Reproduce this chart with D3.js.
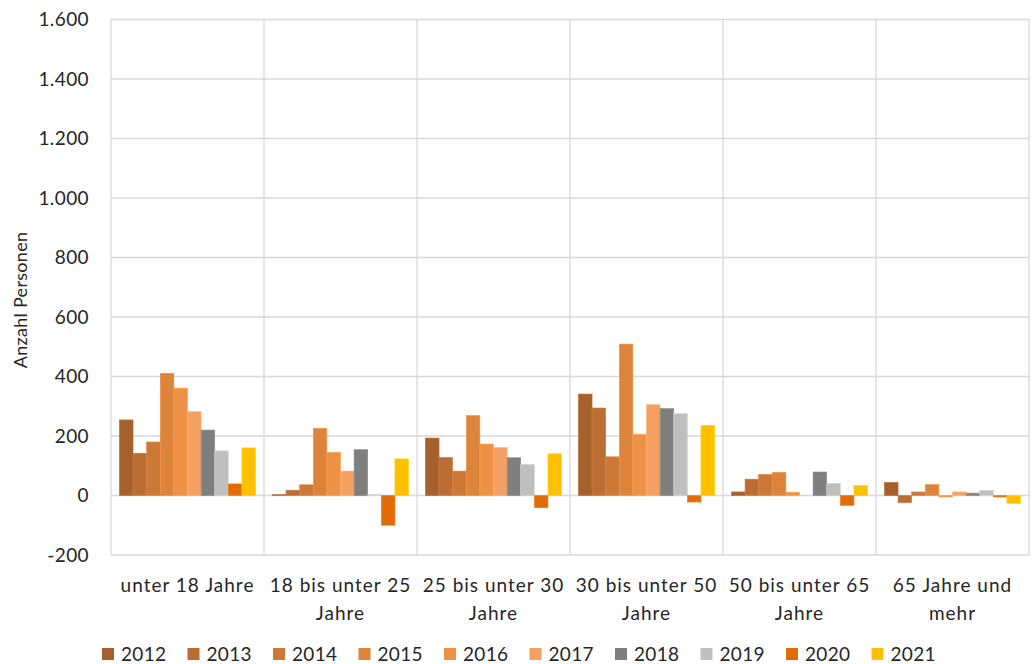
<!DOCTYPE html>
<html>
<head>
<meta charset="utf-8">
<script src="https://cdn.jsdelivr.net/npm/d3@7"></script>
<style>
  html, body { margin: 0; padding: 0; background: #fff; }
  svg { display: block; font-family: Lato, "Open Sans", sans-serif; }
</style>
</head>
<body>
<svg id="chart" width="1032" height="664"></svg>
<script>
// Altersgruppen (x-Achse)
const categories = [
  ["unter 18 Jahre"],
  ["18 bis unter 25", "Jahre"],
  ["25 bis unter 30", "Jahre"],
  ["30 bis unter 50", "Jahre"],
  ["50 bis unter 65", "Jahre"],
  ["65 Jahre und", "mehr"]
];
const years = ["2012", "2013", "2014", "2015", "2016", "2017", "2018", "2019", "2020", "2021"];
const colors = ["#a5612d", "#bc6d33", "#cc7837", "#dc843c", "#ed9144", "#f5a063", "#7f7f7f", "#bfbfbf", "#e36c0a", "#ffc000"];

// Werte je Jahr, in der Reihenfolge der Altersgruppen
const v2012 = [254, 3, 193, 341, 12, 44];
const v2013 = [142, 18, 128, 294, 55, -24];
const v2014 = [180, 36, 82, 130, 71, 12];
const v2015 = [411, 226, 269, 509, 78, 37];
const v2016 = [361, 145, 173, 206, 11, -5];
const v2017 = [282, 82, 161, 305, 0, 12];
const v2018 = [220, 154, 127, 292, 79, 8];
const v2019 = [150, 3, 104, 275, 41, 17];
const v2020 = [39, -100, -41, -22, -33, -5];
const v2021 = [160, 123, 140, 236, 34, -26];
const series = [v2012, v2013, v2014, v2015, v2016, v2017, v2018, v2019, v2020, v2021];

const yTicks = [-200, 0, 200, 400, 600, 800, 1000, 1200, 1400, 1600];

const svg = d3.select("#chart");
const plot = { left: 111, right: 1029, top: 19.5, bottom: 555 };

const y = d3.scaleLinear().domain([-200, 1600]).range([plot.bottom, plot.top]);
const x0 = d3.scaleBand().domain(d3.range(categories.length)).range([plot.left, plot.right]);
const x1 = d3.scaleBand().domain(d3.range(years.length))
  .range([0, x0.bandwidth()]).paddingOuter(0.62).paddingInner(0);

// Tausenderpunkt, einfacher Bindestrich als Minus
const fmt = d => d3.format(",")(d).replace(/,/g, ".").replace("\u2212", "-");

// Gitternetz
const grid = svg.append("g").attr("stroke", "#d9d9d9").attr("stroke-width", 1.3);
grid.selectAll("line.h").data(yTicks).join("line")
  .attr("x1", plot.left).attr("x2", plot.right)
  .attr("y1", d => y(d)).attr("y2", d => y(d));
grid.selectAll("line.v").data(d3.range(categories.length + 1)).join("line")
  .attr("x1", i => i < categories.length ? x0(i) : plot.right)
  .attr("x2", i => i < categories.length ? x0(i) : plot.right)
  .attr("y1", plot.top).attr("y2", plot.bottom);

// Balken
const groups = svg.append("g").selectAll("g").data(series).join("g")
  .attr("fill", (d, i) => colors[i]);
groups.selectAll("rect").data((vals, si) => vals.map((v, ci) => ({ v, ci, si }))).join("rect")
  .attr("x", d => x0(d.ci) + x1(d.si))
  .attr("width", x1.bandwidth())
  .attr("y", d => y(Math.max(0, d.v)))
  .attr("height", d => Math.abs(y(d.v) - y(0)))
  .attr("stroke", (d) => d3.color(colors[d.si]).brighter(0.3))
  .attr("stroke-width", 0.6);

// y-Achse
const yAxis = svg.append("g").attr("transform", `translate(${plot.left - 22},0)`)
  .call(d3.axisLeft(y).tickValues(yTicks).tickFormat(fmt).tickSize(0).tickPadding(0));
yAxis.select(".domain").remove();
yAxis.selectAll("text").attr("font-size", 19).attr("letter-spacing", 0.4).attr("fill", "#262626")
  .attr("font-family", "Lato, sans-serif");

svg.append("text")
  .attr("transform", "translate(27,300) rotate(-90)")
  .attr("text-anchor", "middle").attr("font-size", 18).attr("letter-spacing", 0.3)
  .attr("fill", "#262626")
  .text("Anzahl Personen");

// x-Achse
const xLab = svg.append("g").selectAll("text").data(categories).join("text")
  .attr("x", (d, i) => x0(i) + x0.bandwidth() / 2)
  .attr("y", 592)
  .attr("text-anchor", "middle").attr("font-size", 19).attr("letter-spacing", 1)
  .attr("fill", "#262626");
xLab.selectAll("tspan").data(d => d).join("tspan")
  .attr("x", function () { return d3.select(this.parentNode).attr("x"); })
  .attr("dy", (d, i) => i === 0 ? 0 : 28)
  .text(d => d);

// Legende
const legend = svg.append("g").selectAll("g").data(years).join("g")
  .attr("transform", (d, i) => `translate(${102 + i * 85.5},648)`);
legend.append("rect").attr("width", 12).attr("height", 12)
  .attr("fill", (d, i) => colors[i]);
legend.append("text").attr("x", 19).attr("y", 13)
  .attr("font-size", 19).attr("letter-spacing", 0.3).attr("fill", "#262626").text(d => d);
</script>
</body>
</html>
